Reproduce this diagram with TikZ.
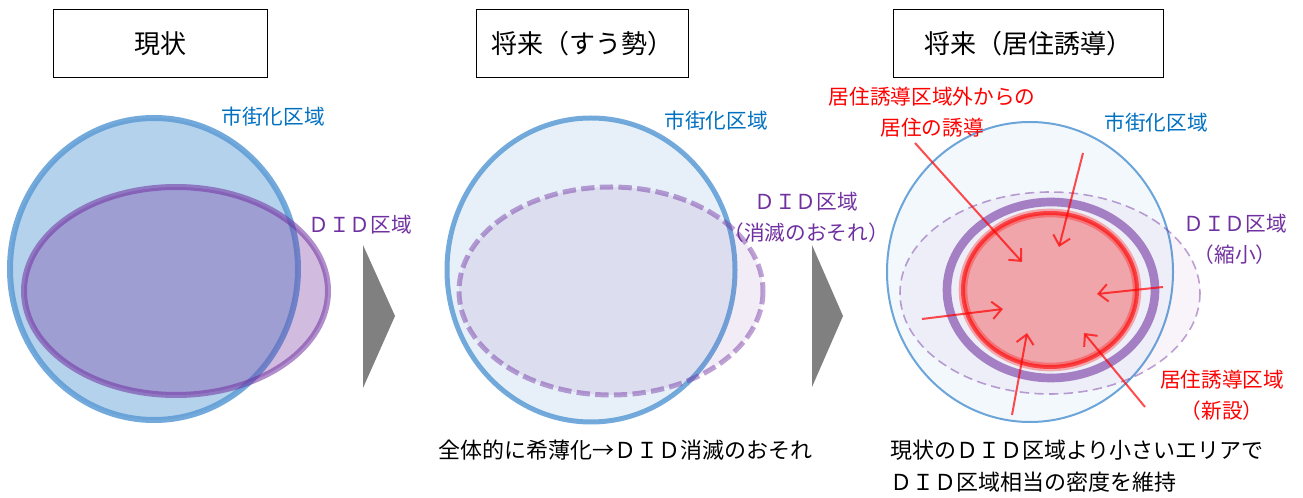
\documentclass[tikz,border=0pt]{standalone}
\usepackage{fontspec}
\setmainfont{Noto Sans CJK JP}
\usetikzlibrary{arrows.meta}
\definecolor{cityblue}{RGB}{91,155,213}
\definecolor{didpurple}{RGB}{112,48,160}
\definecolor{labelblue}{RGB}{0,112,192}
\definecolor{inducered}{RGB}{255,0,0}
\definecolor{zonefill}{RGB}{240,165,170}
\definecolor{stepgray}{RGB}{128,128,128}
\tikzset{
  titlebox/.style={draw=black, line width=0.75pt, minimum height=51pt, font=\fontsize{19.5}{23}\selectfont},
  bluelabel/.style={text=labelblue, inner sep=0pt, align=center, font=\fontsize{15.5}{23.5}\selectfont},
  purplelabel/.style={bluelabel, text=didpurple},
  redlabel/.style={bluelabel, text=inducered},
  notetext/.style={inner sep=0pt, anchor=west, align=left, font=\fontsize{16.5}{24.5}\selectfont},
  stepmark/.style={fill=stepgray},
  pushto/.style={draw=inducered, draw opacity=0.7, line width=1.5pt, -{Straight Barb[length=7pt,width=13pt]}}
}

\begin{document}
\begin{tikzpicture}[x=0.75pt, y=-0.75pt]
  \useasboundingbox (0,0) rectangle (1303,498);

  % titles
  \node[titlebox, minimum width=160.5pt] (now) at (160,44) {現状};
  \node[titlebox, minimum width=159pt] (trend) at (582,44) {将来（すう勢）};
  \node[titlebox, minimum width=202.5pt] (induce) at (1028,44) {将来（居住誘導）};

  % panel 1
  \fill[cityblue, opacity=0.45] (154,269) ellipse [x radius=144, y radius=151];
  \draw[cityblue, draw opacity=0.85, line width=4.5pt] (154,269) ellipse [x radius=144, y radius=151];
  \filldraw[didpurple, fill opacity=0.32, draw opacity=0.55, line width=4.5pt] (176,291) ellipse [x radius=152, y radius=104];
  \node[bluelabel] (city1) at (273,117) {市街化区域};
  \node[purplelabel] (did1) at (360,225) {ＤＩＤ区域};

  \fill[stepmark] (363,245) -- (395,316) -- (363,388) -- cycle;

  % panel 2
  \fill[cityblue, opacity=0.15] (591,270) ellipse [x radius=144, y radius=152];
  \draw[cityblue, draw opacity=0.85, line width=3.75pt] (591,270) ellipse [x radius=144, y radius=152];
  \fill[didpurple, opacity=0.09] (611,291) ellipse [x radius=152, y radius=104];
  \draw[didpurple, draw opacity=0.45, line width=3.75pt, dash pattern=on 10pt off 4pt] (611,291) ellipse [x radius=152, y radius=104];
  \node[bluelabel] (city2) at (716,121) {市街化区域};
  \node[purplelabel] (did2) at (806,217) {ＤＩＤ区域\\（消滅のおそれ）};
  \node[notetext] (note2) at (438,450) {全体的に希薄化→ＤＩＤ消滅のおそれ};

  \fill[stepmark] (812,245) -- (843,316) -- (812,387) -- cycle;

  % panel 3
  \fill[cityblue, opacity=0.07] (1030,272) ellipse [x radius=143, y radius=150];
  \draw[cityblue, draw opacity=0.9, line width=1.5pt] (1030,272) ellipse [x radius=143, y radius=150];
  \fill[didpurple, opacity=0.05] (1050,293) ellipse [x radius=150, y radius=101];
  \draw[didpurple, draw opacity=0.45, line width=1.2pt, dash pattern=on 7pt off 4pt] (1050,293) ellipse [x radius=150, y radius=101];
  \draw[didpurple, draw opacity=0.58, line width=6.5pt] (1051,290) ellipse [x radius=104, y radius=88];
  \fill[zonefill] (1050,290) ellipse [x radius=87, y radius=77];
  \draw[inducered, draw opacity=0.3, line width=6.5pt] (1050,290) ellipse [x radius=87, y radius=77];
  \draw[inducered, draw opacity=0.6, line width=3pt] (1050,290) ellipse [x radius=87, y radius=77];

  \coordinate (from1) at (915,143);  \coordinate (to1) at (1022,262);
  \coordinate (from2) at (1083,153); \coordinate (to2) at (1059,247);
  \coordinate (from3) at (1163,287); \coordinate (to3) at (1097,294);
  \coordinate (from4) at (922,319);  \coordinate (to4) at (1003,309);
  \coordinate (from5) at (1012,415); \coordinate (to5) at (1027,333);
  \coordinate (from6) at (1145,407); \coordinate (to6) at (1084,333);
  \foreach \i in {1,...,6}
    \draw[pushto] (from\i) -- (to\i);

  \node[redlabel] (outside) at (932,112) {居住誘導区域外からの\\居住の誘導};
  \node[bluelabel] (city3) at (1156,123) {市街化区域};
  \node[purplelabel] (did3) at (1235,239) {ＤＩＤ区域\\（縮小）};
  \node[redlabel] (zone) at (1222,395) {居住誘導区域\\（新設）};
  \node[notetext] (note3) at (890,466) {現状のＤＩＤ区域より小さいエリアで\\ＤＩＤ区域相当の密度を維持};
\end{tikzpicture}
\end{document}
